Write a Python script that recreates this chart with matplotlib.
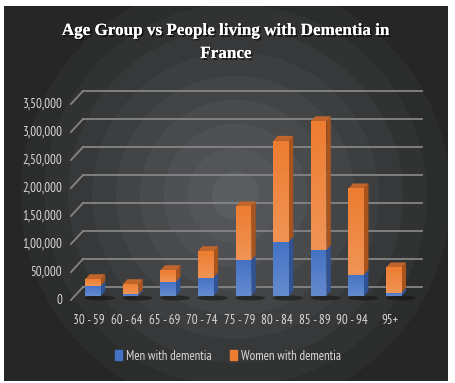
import numpy as np
import matplotlib
matplotlib.use("Agg")
import matplotlib.pyplot as plt
from matplotlib import transforms
from matplotlib.patches import Polygon, Ellipse, Patch
import matplotlib.patheffects as pe

# data
age_groups = ["30 - 59", "60 - 64", "65 - 69", "70 - 74", "75 - 79",
              "80 - 84", "85 - 89", "90 - 94", "95+"]
men = [18000, 3000, 25500, 33000, 64000, 97000, 82000, 38000, 6000]
women = [12000, 18000, 20500, 47000, 96000, 180000, 230000, 154000, 45000]
y_ticks = [0, 50000, 100000, 150000, 200000, 250000, 300000, 350000]
y_tick_labels = ["0", "50,000", "1,00,000", "1,50,000", "2,00,000",
                 "2,50,000", "3,00,000", "3,50,000"]

blue, blue_side, blue_top = "#4472c4", "#2f5394", "#3a62ad"
orange, orange_side, orange_top = "#ed7d31", "#a9541c", "#c0652b"
txt_col = "#d9d9d9"
narrow = ["PT Sans Narrow", "DejaVu Sans"]
fs = 9.3

W, H = 455, 383
fig = plt.figure(figsize=(W / 100, H / 100), dpi=100)
fig.patch.set_facecolor("white")

# radial background
bg = fig.add_axes([4 / W, 2 / H, 444 / W, 375 / H])
yy, xx = np.mgrid[0:375, 0:444]
r = np.hypot(xx - 231, yy - 189) / 215.0
r = np.clip(r, 0, 1)
r = np.floor(r * 9) / 9  # banded rings like the original
c0 = np.array([0x5a, 0x5c, 0x60]) / 255
c1 = np.array([0x26, 0x26, 0x26]) / 255
img = c0[None, None, :] * (1 - r[..., None]) + c1[None, None, :] * r[..., None]
bg.imshow(img, aspect="auto", interpolation="bilinear")
bg.set_axis_off()

# plot axes (front face coordinates of the bars)
left_px, right_px = 74.2, 412.6
top_px, base_px = 100, 296
ax = fig.add_axes([left_px / W, (H - base_px) / H, (right_px - left_px) / W,
                   (base_px - top_px) / H])
ax.set_xlim(-0.5, len(age_groups) - 0.5)
ax.set_ylim(0, 350000)
ax.set_axis_off()

px_x = (right_px - left_px) / len(age_groups)
px_y = (base_px - top_px) / 350000

blend = transforms.blended_transform_factory(ax.transAxes, ax.transData)
back_t = transforms.offset_copy(blend, fig=fig, x=0, y=9, units="dots")
front_t = transforms.offset_copy(blend, fig=fig, x=0, y=-4, units="dots")
x0b = (83 - left_px) / (right_px - left_px)
x1b = (422 - left_px) / (right_px - left_px)
x0f = (71 - left_px) / (right_px - left_px)

for v, lab in zip(y_ticks, y_tick_labels):
    ax.plot([x0b, x1b], [v, v], color="#858585", lw=1.3, transform=back_t,
            clip_on=False, zorder=1)
    p0 = front_t.transform((x0f, v))
    p1 = back_t.transform((x0b, v))
    ax.plot([p0[0], p1[0]], [p0[1], p1[1]], color="#858585", lw=1.3,
            transform=None, clip_on=False, zorder=1)
    ax.text(p0[0] - 9, p0[1], lab, transform=None, ha="right", va="center",
            color=txt_col, fontsize=fs, family=narrow)

# bars with a bit of depth
x = np.arange(len(age_groups))
width = 15.5 / px_x
dx = 4.5 / px_x
dy = 5 / px_y
bottoms = np.zeros(len(x))
for xi in x:
    ax.add_patch(Ellipse((xi + 7 / px_x, -2 / px_y), 30 / px_x, 5 / px_y,
                         color="#111111", alpha=0.55, zorder=2, clip_on=False,
                         lw=0))

for vals, fc, sc, tc in [(men, blue, blue_side, blue_top),
                         (women, orange, orange_side, orange_top)]:
    vals = np.array(vals, dtype=float)
    bars = ax.bar(x, vals, width, bottom=bottoms, color=fc, zorder=4,
                  linewidth=0)
    for b, v, b0 in zip(bars, vals, bottoms):
        xl, xr = b.get_x(), b.get_x() + b.get_width()
        y0, y1 = b0, b0 + v
        ax.add_patch(Polygon([(xr, y0), (xr, y1), (xr + dx, y1 + dy),
                              (xr + dx, y0 + dy)], closed=True, color=sc,
                             zorder=3, clip_on=False, lw=0))
        ax.add_patch(Polygon([(xl, y1), (xr, y1), (xr + dx, y1 + dy),
                              (xl + dx, y1 + dy)], closed=True, color=tc,
                             zorder=3, clip_on=False, lw=0))
        # soft vertical gradient on the front face
        grad = np.linspace(0.18, 0.0, 50).reshape(-1, 1)
        ax.imshow(np.dstack([np.ones_like(grad)] * 3 + [grad]), aspect="auto",
                  extent=(xl, xr, y0, y1), origin="lower", zorder=5,
                  clip_on=False)
    bottoms = bottoms + vals

ax.set_xlim(-0.5, len(age_groups) - 0.5)
ax.set_ylim(0, 350000)

xlab_t = transforms.offset_copy(
    transforms.blended_transform_factory(ax.transData, ax.transAxes),
    fig=fig, x=-4, y=0, units="dots")
for xi, lab in zip(x, age_groups):
    ax.text(xi, -24 / (base_px - top_px), lab, transform=xlab_t, ha="center",
            va="center", color=txt_col, fontsize=fs, family=narrow)

# title
shadow = [pe.withSimplePatchShadow(offset=(1.2, -1.2), shadow_rgbFace="black",
                                   alpha=0.7), pe.Normal()]
fig.text(226 / W, 1 - 31 / H, "Age Group vs People living with Dementia in",
         ha="center", va="center", color="white", fontsize=12.3,
         fontweight="bold", family="Liberation Serif", path_effects=shadow)
fig.text(226 / W, 1 - 54 / H, "France", ha="center", va="center",
         color="white", fontsize=12.3, fontweight="bold",
         family="Liberation Serif", path_effects=shadow)

leg = fig.legend(handles=[Patch(color=blue), Patch(color=orange)],
                 labels=["Men with dementia", "Women with dementia"],
                 loc="center", bbox_to_anchor=(228 / W, 1 - 356 / H), ncol=2,
                 frameon=False, handlelength=0.55, handleheight=0.7,
                 handletextpad=0.3, columnspacing=1.4,
                 prop={"family": narrow, "size": fs})
for t in leg.get_texts():
    t.set_color(txt_col)

fig.savefig("out.png", dpi=100, facecolor=fig.get_facecolor())
